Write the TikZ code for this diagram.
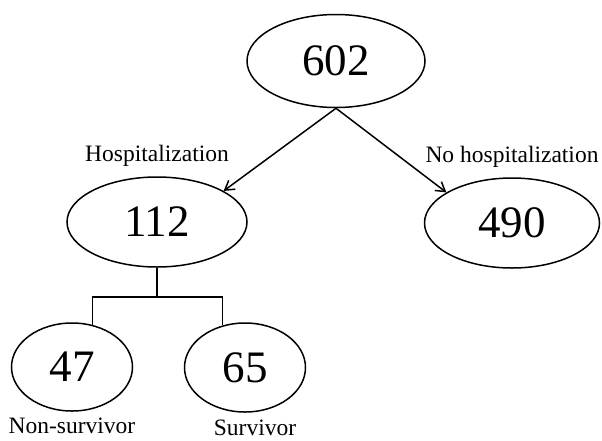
\documentclass[tikz,border=0pt]{standalone}
\usepackage{fontspec}
\setmainfont{Liberation Serif}
\usetikzlibrary{arrows.meta, positioning, shapes.geometric}

\begin{document}
\begin{tikzpicture}[
                x=1pt, y=-1pt,
                node distance=6pt,
                count/.style={draw, ellipse, line width=1.5pt, inner sep=0pt, font=\fontsize{45}{50}\selectfont},
                lbl/.style={font=\fontsize{23.5}{28}\selectfont},
                arrow/.style={-{Straight Barb[length=9pt,width=11pt]}, line width=1.5pt},
                link/.style={line width=1.5pt}
            ]
                \useasboundingbox (0,0) rectangle (602,440);
                \node[count, minimum width=178pt, minimum height=93pt] (total) at (336,61) {602};
                \node[count, minimum width=180pt, minimum height=90pt] (hosp) at (157,222) {112};
                \node[count, minimum width=175pt, minimum height=90pt] (nohosp) at (512,223) {490};
                \node[count, minimum width=121pt, minimum height=88pt] (nonsurv) at (72,367) {47};
                \node[count, minimum width=121pt, minimum height=89pt] (surv) at (245,367.5) {65};

                \node[lbl] (hosplbl) [above=of hosp] {Hospitalization};
                \node[lbl] (nohosplbl) [above=of nohosp] {No hospitalization};
                \node[lbl] (nonsurvlbl) [below=2.7pt of nonsurv] {Non-survivor};
                \node[lbl] (survlbl) [below=3.7pt of surv, xshift=10pt] {Survivor};

                \draw[arrow] (total.south) -- (hosp.25);
                \draw[arrow] (total.south) -- (nohosp.155);

                \coordinate (split) at ([yshift=-29pt]hosp.south);
                \draw[link] (hosp.south) -- (split);
                \draw[link] (nonsurv.64) |- (split) -| (surv.118);
            \end{tikzpicture}
\end{document}
